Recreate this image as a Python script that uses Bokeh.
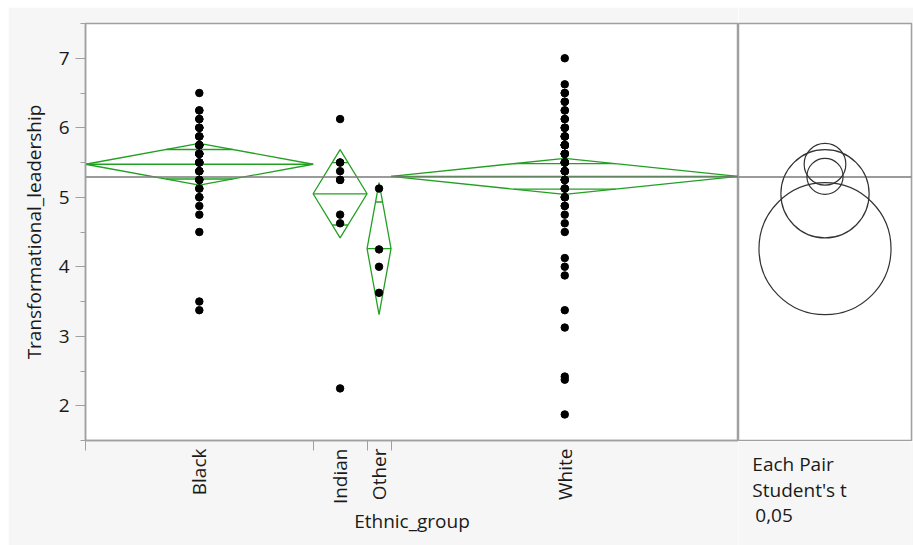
import math
from bokeh.plotting import figure
from bokeh.layouts import row, column
from bokeh.models import Range1d, FixedTicker, SingleIntervalTicker
from bokeh.core.properties import value
from bokeh.embed import file_html
from bokeh.resources import INLINE

# ---- data -------------------------------------------------------------
groups = ["Black", "Indian", "Other", "White"]

black = [6.5, 6.25, 6.125, 6.0, 5.875, 5.75, 5.625, 5.5, 5.375, 5.25, 5.125,
         5.0, 4.875, 4.75, 4.5, 3.5, 3.375,
         6.25, 6.125, 6.0, 6.0, 5.875, 5.875, 5.75, 5.75, 5.75, 5.625, 5.625,
         5.625, 5.5, 5.5, 5.5, 5.375, 5.375, 5.25, 5.25, 5.125, 5.0]
indian = [6.125, 5.5, 5.5, 5.375, 5.25, 5.25, 4.75, 4.625, 2.25]
other = [5.125, 4.25, 4.0, 3.625]
white = [7.0, 6.625, 6.5, 6.375, 6.25, 6.125, 6.0, 5.875, 5.75, 5.625, 5.5,
         5.375, 5.25, 5.125, 5.0, 4.875, 4.75, 4.625, 4.5,
         4.125, 4.0, 3.875, 3.375, 3.125, 2.42, 2.375, 1.875,
         6.25, 6.125, 6.0, 6.0, 5.875, 5.875, 5.875, 5.75, 5.75, 5.75, 5.75,
         5.625, 5.625, 5.625, 5.5, 5.5, 5.5, 5.5, 5.375, 5.375, 5.375,
         5.25, 5.25, 5.25, 5.125, 5.125, 5.0, 5.0, 6.375, 6.5, 4.875]
values = [black, indian, other, white]

# group means and 95% CI half-widths (means diamonds / comparison circles)
group_mean = [5.475, 5.05, 4.26, 5.30]
ci_half = [0.30, 0.635, 0.95, 0.26]
grand_mean = 5.29

y_limits = (1.5, 7.5)
circle_caption = ["Each Pair", "Student's t", "0,05"]
x_title = "Ethnic_group"
y_title = "Transformational_leadership"

# ---- styling ----------------------------------------------------------
FONT = "Open Sans"
FS = "19px"
TXT = "#1a1a1a"
FRAME = "#a0a0a0"
GREEN = "#22a022"
PANEL_BG = "#f6f6f6"

counts = [len(v) for v in values]
N = sum(counts)
bounds = [0]
for c in counts:
    bounds.append(bounds[-1] + c)
centers = [(bounds[i] + bounds[i + 1]) / 2 for i in range(len(groups))]

yr = Range1d(*y_limits)

# ---- main panel: points and means diamonds ---------------------------
p = figure(width=730, height=538, margin=(7, 0, 0, 8),
           x_range=Range1d(0, N), y_range=yr,
           output_backend="svg", toolbar_location=None,
           min_border_left=77, min_border_right=0,
           min_border_top=16, min_border_bottom=105,
           background_fill_color="white", border_fill_color=PANEL_BG,
           outline_line_color=FRAME, outline_line_width=1.5)
p.xgrid.visible = False
p.ygrid.visible = False

ya = p.yaxis[0]
ya.ticker = SingleIntervalTicker(interval=1, num_minor_ticks=2)
ya.axis_line_color = FRAME
ya.axis_line_width = 1.5
ya.major_tick_line_color = FRAME
ya.minor_tick_line_color = FRAME
ya.major_tick_out = 10
ya.major_tick_in = 0
ya.minor_tick_out = 5
ya.minor_tick_in = 0
ya.major_label_standoff = 6
ya.major_label_text_font = FONT
ya.major_label_text_font_size = FS
ya.major_label_text_color = TXT
ya.axis_label = y_title
ya.axis_label_text_font = FONT
ya.axis_label_text_font_size = FS
ya.axis_label_text_font_style = "normal"
ya.axis_label_text_color = TXT
ya.axis_label_standoff = 9

# labels at group centres, tick marks at group boundaries
xa = p.xaxis[0]
xa.ticker = FixedTicker(ticks=centers, minor_ticks=bounds)
xa.major_label_overrides = {c: g for c, g in zip(centers, groups)}
xa.major_label_orientation = math.pi / 2
xa.axis_line_color = FRAME
xa.axis_line_width = 1.5
xa.major_tick_line_color = None
xa.major_tick_out = 0
xa.major_tick_in = 0
xa.minor_tick_line_color = FRAME
xa.minor_tick_out = 10
xa.minor_tick_in = 0
xa.major_label_standoff = -2
xa.major_label_text_font = FONT
xa.major_label_text_font_size = FS
xa.major_label_text_color = TXT
xa.axis_label = x_title
xa.axis_label_text_font = FONT
xa.axis_label_text_font_size = FS
xa.axis_label_text_font_style = "normal"
xa.axis_label_text_color = TXT
xa.axis_label_standoff = 1

xs, ys = [], []
seg = dict(x0=[], x1=[], y0=[], y1=[])
shrink = 1 - 1 / math.sqrt(2)
for i in range(len(groups)):
    l, r, c = bounds[i], bounds[i + 1], centers[i]
    m, h = group_mean[i], ci_half[i]
    xs.append([l, c, r, c])
    ys.append([m, m + h, m, m - h])
    seg["x0"].append(l); seg["x1"].append(r)
    seg["y0"].append(m); seg["y1"].append(m)
    w = (r - l) / 2 * shrink
    for s in (1, -1):
        yy = m + s * h / math.sqrt(2)
        seg["x0"].append(c - w); seg["x1"].append(c + w)
        seg["y0"].append(yy); seg["y1"].append(yy)

p.patches(xs, ys, fill_color=None, line_color=GREEN, line_width=1.3)
p.segment(x0="x0", y0="y0", x1="x1", y1="y1", source=seg,
          line_color=GREEN, line_width=1.3)
p.segment(x0=[0], y0=[grand_mean], x1=[N], y1=[grand_mean],
          line_color="#7a7a7a", line_width=1.5)

px_, py_ = [], []
for c, v in zip(centers, values):
    px_ += [c] * len(v)
    py_ += v
p.scatter(px_, py_, size=7.5, color="black")

# ---- comparison circles panel ------------------------------------------
CW = 173
q = figure(width=175, height=434, x_range=Range1d(0, CW), y_range=yr,
           output_backend="svg", toolbar_location=None,
           x_axis_location=None, y_axis_location=None,
           min_border_left=0, min_border_right=2,
           min_border_top=16, min_border_bottom=1,
           background_fill_color="white", border_fill_color=PANEL_BG,
           outline_line_color=FRAME, outline_line_width=1.5)
q.xgrid.visible = False
q.ygrid.visible = False
q.segment(x0=[0], y0=[grand_mean], x1=[CW], y1=[grand_mean],
          line_color="#7a7a7a", line_width=1.5)
q.circle(x=[CW / 2] * len(groups), y=group_mean, radius=ci_half,
         radius_dimension="y", fill_color=None, line_color="#333333",
         line_width=1.2)

# ---- caption under the circles ------------------------------------------
cap = figure(width=175, height=104, x_range=Range1d(0, 175),
             y_range=Range1d(104, 0), output_backend="svg",
             toolbar_location=None, x_axis_location=None,
             y_axis_location=None, min_border=0,
             background_fill_color=PANEL_BG, border_fill_color=PANEL_BG,
             outline_line_color=None)
cap.xgrid.visible = False
cap.ygrid.visible = False
cap.text(x=[14, 14, 17],
         y=[22 + 26 * k for k in range(len(circle_caption))],
         text=circle_caption, text_font=value(FONT), text_font_size=FS,
         text_color=TXT, text_align="left", text_baseline="middle")

layout = row(p, column(q, cap, margin=(7, 0, 0, 0)))
open("out.html", "w").write(file_html(layout, INLINE))
